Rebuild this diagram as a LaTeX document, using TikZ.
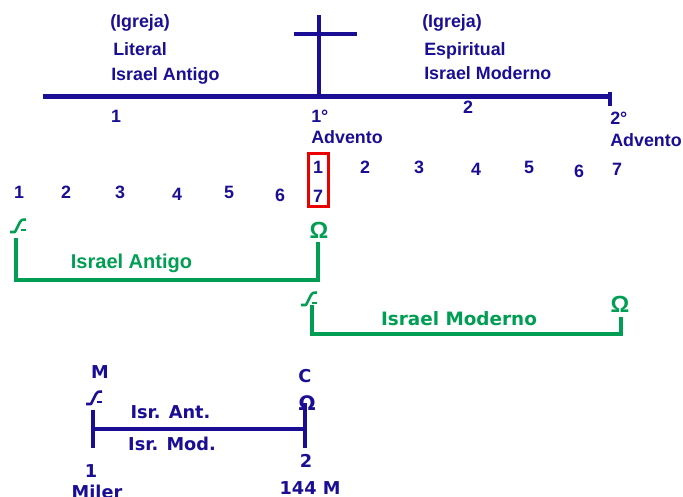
\documentclass[tikz,border=0pt]{standalone}
\usepackage{fontspec}
\setmainfont{Liberation Sans}
\newfontfamily\lucida{DejaVu Sans}
\definecolor{navy}{RGB}{26,14,148}
\definecolor{grn}{RGB}{0,158,82}
\definecolor{redb}{RGB}{235,0,0}
\tikzset{
  alphag/.pic={
    \draw[line width=1.9pt,line join=round] (-8,6) -- (-3,6) -- (2,-4) .. controls (3,-6) and (4,-6.5) .. (8,-6.5);
    \draw[line width=1.9pt] (3,4) -- (8,4);
  }
}
\begin{document}
\begin{tikzpicture}[x=0.75pt,y=-0.75pt,
  txt/.style={inner sep=0,anchor=base,text=navy,font=\fontsize{13.4}{15}\selectfont\bfseries},
  txtw/.style={txt,anchor=base west},
  gtxt/.style={inner sep=0,anchor=base,text=grn,font=\fontsize{15}{17}\selectfont\bfseries},
  gom/.style={inner sep=0,anchor=base,text=grn,font=\fontsize{17.5}{19}\selectfont\bfseries},
  gtxtl/.style={inner sep=0,anchor=base,text=grn,font=\lucida\fontsize{13.8}{16}\selectfont\bfseries},
  btxt/.style={inner sep=0,anchor=base,text=navy,font=\lucida\fontsize{13.3}{15}\selectfont\bfseries},
  mainline/.style={navy,line width=3.75pt},
  gline/.style={grn,line width=3pt},
  bline/.style={navy,line width=3.2pt}]
\useasboundingbox (0,0) rectangle (683,497);

% main timeline and cross
\coordinate (L0) at (43,96);
\coordinate (L1) at (611,96);
\draw[mainline] (L0) -- (L1);
\coordinate (T0) at (610,92);
\coordinate (T1) at (610,106);
\draw[navy,line width=2.4pt] (T0) -- (T1);
\coordinate (C0) at (319,15);
\coordinate (C1) at (319,96);
\coordinate (C2) at (294,34);
\coordinate (C3) at (357,34);
\draw[navy,line width=3pt] (C0) -- (C1);
\draw[navy,line width=3pt] (C2) -- (C3);

% top labels
\node[txtw] (ig1) at (110,27) {(Igreja)};
\node[txtw] (lit) at (113,55) {Literal};
\node[txtw] (ia1) at (111,80) {Israel Antigo};
\node[txtw] (ig2) at (422,27) {(Igreja)};
\node[txtw] (esp) at (424,55) {Espiritual};
\node[txtw] (im1) at (424,79) {Israel Moderno};

% below line
\node[txt] (n1) at (116,122) {1};
\node[txtw] (a1o) at (311,122) {1°};
\node[txtw] (adv1) at (311,143) {Advento};
\node[txt] (n2) at (468,113) {2};
\node[txtw] (a2o) at (610,124) {2°};
\node[txtw] (adv2) at (610,146) {Advento};

% number rows
\node[txt] (l1) at (19,198) {1};
\node[txt] (l2) at (66,198) {2};
\node[txt] (l3) at (120,198) {3};
\node[txt] (l4) at (177,200) {4};
\node[txt] (l5) at (229,198) {5};
\node[txt] (l6) at (280,201) {6};
\node[draw=redb,line width=2.2pt,minimum width=15pt,minimum height=39.75pt,inner sep=0] (box) at (318.5,180) {};
\node[txt] (b1) at (318,173) {1};
\node[txt] (b7) at (318,202) {7};
\node[txt] (r2) at (365,173) {2};
\node[txt] (r3) at (419,173) {3};
\node[txt] (r4) at (476,175) {4};
\node[txt] (r5) at (529,173) {5};
\node[txt] (r6) at (579,177) {6};
\node[txt] (r7) at (617,175) {7};

% green bracket 1
\pic[grn] at (18,226) {alphag};
\node[gom] (om1) at (319,238) {Ω};
\coordinate (g1a) at (16,238);
\coordinate (g1b) at (318,280);
\coordinate (g1c) at (318,242);
\draw[gline] (g1a) |- (g1b) -- (g1c);
\node[gtxt] (gia) at (131.5,268) {Israel Antigo};

% green bracket 2
\pic[grn] at (309,299) {alphag};
\node[gom] (om2) at (620,312) {Ω};
\coordinate (g2a) at (312,305);
\coordinate (g2b) at (621,334);
\coordinate (g2c) at (621,317);
\draw[gline] (g2a) |- (g2b) -- (g2c);
\node[gtxtl] (gim) at (459,325) {Israel Moderno};

% bottom diagram
\coordinate (B0) at (93,410);
\coordinate (B1) at (93,448);
\coordinate (B2) at (93,429);
\coordinate (B3) at (305,429);
\coordinate (B4) at (305,403);
\coordinate (B5) at (305,448);
\draw[bline] (B0) -- (B1);
\draw[bline] (B2) -- (B3);
\draw[bline] (B4) -- (B5);
\node[btxt] (bm) at (100,378) {M};
\pic[navy] at (94,398) {alphag};
\node[btxt] (bia) at (170.5,418) {Isr. Ant.};
\node[btxt] (bim) at (172,450) {Isr. Mod.};
\node[btxt] (bc) at (305,382) {C};
\node[btxt,font=\lucida\fontsize{15}{16}\selectfont\bfseries] (bom) at (307,410) {Ω};
\node[btxt] (b2) at (306,467) {2};
\node[btxt] (b144) at (310,494) {144 M};
\node[btxt] (bb1) at (91,477) {1};
\node[btxt] (bmil) at (97,498) {Miler};
\end{tikzpicture}
\end{document}
